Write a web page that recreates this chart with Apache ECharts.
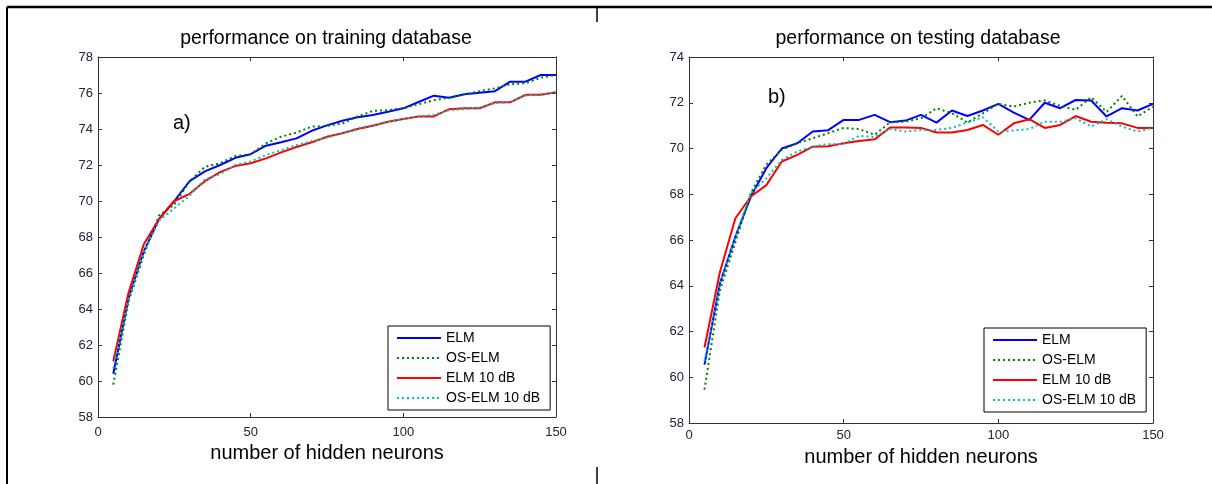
<!DOCTYPE html>
<html>
<head>
<meta charset="utf-8">
<script src="https://cdn.jsdelivr.net/npm/echarts@6/dist/echarts.min.js"></script>
<style>
  html, body { margin: 0; padding: 0; background: #fff; }
  #chart { width: 1212px; height: 484px; }
</style>
</head>
<body>
<div id="chart"></div>
<script>
// hidden neurons (x values)
const neurons = [5, 10, 15, 20, 25, 30, 35, 40, 45, 50, 55, 60, 65, 70, 75,
  80, 85, 90, 95, 100, 105, 110, 115, 120, 125, 130, 135, 140, 145, 150];

const seriesNames = ['ELM', 'OS-ELM', 'ELM 10 dB', 'OS-ELM 10 dB'];

// a) training database
const trainELM = [60.4, 64.6, 67.2, 69.0, 70.0, 71.1, 71.65, 72.0, 72.4, 72.6, 73.07, 73.26, 73.48, 73.9, 74.2,
  74.46, 74.65, 74.78, 74.96, 75.15, 75.5, 75.85, 75.74, 75.93, 76.02, 76.1, 76.63, 76.63, 77.0, 77.0];
const trainOSELM = [59.8, 64.4, 67.0, 69.2, 69.8, 71.1, 71.9, 72.1, 72.5, 72.6, 73.2, 73.57, 73.8, 74.13, 74.17,
  74.3, 74.7, 75.0, 75.05, 75.15, 75.37, 75.6, 75.74, 75.93, 76.1, 76.26, 76.48, 76.54, 76.85, 77.0];
const trainELM10 = [61.1, 64.9, 67.6, 69.0, 70.0, 70.4, 71.1, 71.6, 71.95, 72.1, 72.37, 72.7, 73.0, 73.26, 73.57,
  73.76, 74.0, 74.18, 74.4, 74.56, 74.7, 74.7, 75.1, 75.15, 75.15, 75.48, 75.48, 75.9, 75.9, 76.04];
const trainOSELM10 = [60.7, 64.5, 67.2, 68.9, 69.6, 70.3, 71.2, 71.5, 72.0, 72.2, 72.55, 72.83, 73.1, 73.33, 73.52,
  73.76, 74.04, 74.22, 74.4, 74.56, 74.7, 74.78, 75.05, 75.1, 75.2, 75.43, 75.5, 75.85, 75.93, 76.04];

// b) testing database
const testELM = [60.55, 64.1, 66.15, 67.9, 69.14, 70.0, 70.23, 70.74, 70.8, 71.25, 71.25, 71.47, 71.15, 71.22, 71.47,
  71.13, 71.66, 71.42, 71.66, 71.95, 71.57, 71.25, 72.0, 71.76, 72.12, 72.1, 71.4, 71.76, 71.66, 71.95];
const testOSELM = [59.46, 63.8, 65.9, 68.05, 69.3, 69.94, 70.23, 70.45, 70.67, 70.9, 70.85, 70.6, 71.14, 71.18, 71.32,
  71.76, 71.54, 71.14, 71.54, 71.95, 71.83, 72.0, 72.1, 71.86, 71.69, 72.24, 71.6, 72.3, 71.4, 71.83];
const testELM10 = [61.3, 64.6, 66.95, 67.9, 68.4, 69.43, 69.72, 70.08, 70.1, 70.23, 70.33, 70.4, 70.92, 70.92, 70.9,
  70.7, 70.7, 70.81, 71.03, 70.6, 71.1, 71.28, 70.9, 71.03, 71.42, 71.17, 71.13, 71.1, 70.9, 70.9];
const testOSELM10 = [60.7, 64.1, 66.15, 68.05, 68.7, 69.5, 69.87, 70.08, 70.2, 70.2, 70.55, 70.5, 70.85, 70.74, 70.81,
  70.81, 70.9, 71.14, 71.37, 70.74, 70.79, 70.85, 71.17, 71.17, 71.32, 70.96, 71.28, 70.96, 70.74, 70.9];

const xTicks = [0, 150, 50];          // min, max, interval
const yTrainTicks = [58, 78, 2];
const yTestTicks = [58, 74, 2];

const FONT = '"Liberation Sans", Arial, sans-serif';
const lineColors = ['#0000ff', '#008000', '#ff0000', '#00bfbf'];
const lineTypes = ['solid', [2, 3], 'solid', [2, 3]];

const chart = echarts.init(document.getElementById('chart'), null, { renderer: 'canvas' });

function pairs(ys) {
  return neurons.map((x, i) => [x, ys[i]]);
}

function xAxisOf(gridIndex, top, labelGap) {
  return {
    type: 'value', gridIndex: gridIndex, position: top ? 'top' : 'bottom',
    min: xTicks[0], max: xTicks[1], interval: xTicks[2],
    name: top ? '' : 'number of hidden neurons',
    nameLocation: 'middle', nameGap: 24,
    nameTextStyle: { fontFamily: FONT, fontSize: 20, color: '#000' },
    axisLine: { show: true, onZero: false, lineStyle: { color: '#333', width: 1 } },
    axisTick: { show: true, inside: true, length: 4, lineStyle: { color: '#333' } },
    axisLabel: { show: !top, fontFamily: FONT, fontSize: 13, color: '#22223a', margin: labelGap || 8 },
    splitLine: { show: false }
  };
}

function yAxisOf(gridIndex, ticks, right) {
  return {
    type: 'value', gridIndex: gridIndex, position: right ? 'right' : 'left',
    min: ticks[0], max: ticks[1], interval: ticks[2],
    axisLine: { show: true, onZero: false, lineStyle: { color: '#333', width: 1 } },
    axisTick: { show: true, inside: true, length: 4, lineStyle: { color: '#333' } },
    axisLabel: { show: !right, fontFamily: FONT, fontSize: 13, color: '#22223a', margin: 5 },
    splitLine: { show: false }
  };
}

function lineSeries(name, ys, idx, axisIdx) {
  return {
    name: name, type: 'line', xAxisIndex: axisIdx, yAxisIndex: axisIdx,
    data: pairs(ys), symbol: 'none', smooth: false,
    lineStyle: { color: lineColors[idx], width: 2, type: lineTypes[idx] },
    itemStyle: { color: lineColors[idx] }
  };
}

function legendOf(left, top) {
  return {
    data: seriesNames, orient: 'vertical', left: left, top: top,
    itemWidth: 44, itemHeight: 14, itemGap: 6,
    padding: [5, 10, 5, 8],
    backgroundColor: '#fff', borderColor: '#000', borderWidth: 1,
    itemStyle: { opacity: 0 },
    textStyle: { fontFamily: FONT, fontSize: 14, color: '#000' },
    selectedMode: false
  };
}

const train = [trainELM, trainOSELM, trainELM10, trainOSELM10];
const test = [testELM, testOSELM, testELM10, testOSELM10];

chart.setOption({
  animation: false,
  textStyle: { fontFamily: FONT },
  grid: [
    { left: 98, top: 57, width: 458, height: 360 },
    { left: 689, top: 57, width: 464, height: 366 }
  ],
  xAxis: [xAxisOf(0, false, 9), xAxisOf(1, false, 6), xAxisOf(0, true), xAxisOf(1, true)],
  yAxis: [yAxisOf(0, yTrainTicks, false), yAxisOf(1, yTestTicks, false),
          yAxisOf(0, yTrainTicks, true), yAxisOf(1, yTestTicks, true)],
  legend: [legendOf(388, 326), legendOf(984, 328)],
  series: seriesNames.map((n, i) => lineSeries(n, train[i], i, 0))
    .concat(seriesNames.map((n, i) => lineSeries(n, test[i], i, 1))),
  graphic: [
    { type: 'text', x: 326, y: 39, style: { text: 'performance on training database', font: '19.5px ' + FONT, fill: '#000', align: 'center', verticalAlign: 'middle' } },
    { type: 'text', x: 918, y: 39, style: { text: 'performance on testing database', font: '19.5px ' + FONT, fill: '#000', align: 'center', verticalAlign: 'middle' } },
    { type: 'text', x: 173, y: 123, style: { text: 'a)', font: '20px ' + FONT, fill: '#000', verticalAlign: 'middle' } },
    { type: 'text', x: 768, y: 97, style: { text: 'b)', font: '20px ' + FONT, fill: '#000', verticalAlign: 'middle' } },
    // page frame
    { type: 'line', shape: { x1: 7, y1: 7, x2: 1212, y2: 7 }, style: { stroke: '#000', lineWidth: 2.5 } },
    { type: 'line', shape: { x1: 7, y1: 7, x2: 7, y2: 484 }, style: { stroke: '#000', lineWidth: 2 } },
    { type: 'line', shape: { x1: 597, y1: 7, x2: 597, y2: 22 }, style: { stroke: '#000', lineWidth: 1.5 } },
    { type: 'line', shape: { x1: 597, y1: 467, x2: 597, y2: 484 }, style: { stroke: '#000', lineWidth: 1.5 } }
  ]
});
</script>
</body>
</html>
